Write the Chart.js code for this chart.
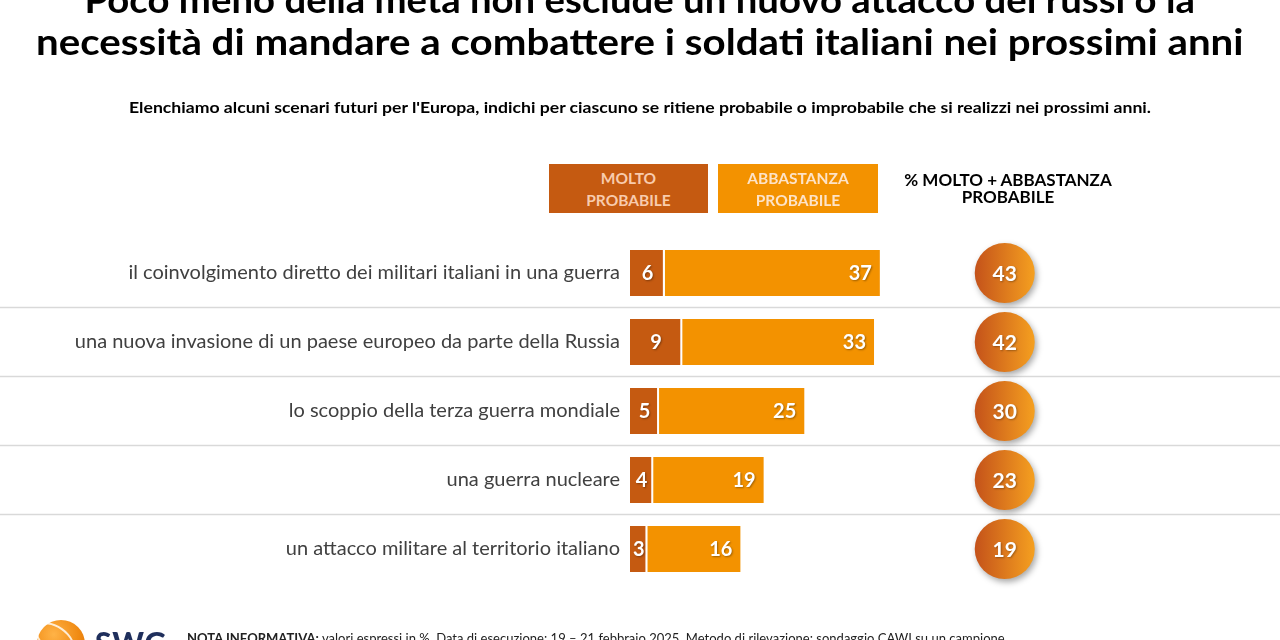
<!DOCTYPE html>
<html>
<head>
<meta charset="utf-8">
<script src="https://cdn.jsdelivr.net/npm/chart.js@4/dist/chart.umd.min.js"></script>
<style>
  html, body { margin:0; padding:0; background:#fff; width:1280px; height:640px; overflow:hidden; font-family: Lato, "Open Sans", sans-serif; }
  #wrap { position:relative; width:1280px; height:640px; overflow:hidden; }
  #chart { position:absolute; left:0; top:0; }
  .line { position:absolute; left:0; width:1280px; text-align:center; white-space:nowrap; }
  .fit { display:inline-block; transform-origin:50% 0; }
  .title { font-weight:700; font-size:37px; line-height:1.2; color:#000; }
  .sub { font-weight:700; font-size:15px; line-height:1.2; color:#000; }
  .box { position:absolute; height:49px; display:flex; align-items:center; justify-content:center; text-align:center; font-weight:700; font-size:15.5px; line-height:22px; }
  .hdr { position:absolute; text-align:center; font-weight:700; font-size:17px; line-height:17px; color:#000; white-space:nowrap; }
  .note { position:absolute; left:187px; top:631px; font-size:13px; line-height:1.2; color:#222; white-space:nowrap; transform-origin:0 0; }
  .note b { text-decoration:underline; }
  .logo { position:absolute; left:37px; top:620px; width:48px; height:48px; border-radius:50%; background:radial-gradient(circle at 35% 30%, #ffb347, #f08a12 55%, #d96c0a); }
  .logo::after { content:""; position:absolute; left:-4px; top:6px; width:40px; height:22px; border:2px solid rgba(255,255,255,0.8); border-radius:50%; transform:rotate(35deg); }
  .logotxt { position:absolute; left:95px; top:624px; font-weight:900; font-size:30px; line-height:36px; color:#1f2f5c; letter-spacing:1px; }
</style>
</head>
<body>
<div id="wrap">
  <canvas id="chart" width="1280" height="640"></canvas>

  <div class="line title" style="top:-23px;"><span class="fit" data-w="1110">Poco meno della metà non esclude un nuovo attacco dei russi o la</span></div>
  <div class="line title" style="top:19px;"><span class="fit" data-w="1208">necessità di mandare a combattere i soldati italiani nei prossimi anni</span></div>
  <div class="line sub" style="top:98px;"><span class="fit" data-w="1022">Elenchiamo alcuni scenari futuri per l'Europa, indichi per ciascuno se ritiene probabile o improbabile che si realizzi nei prossimi anni.</span></div>

  <div id="legendMolto" class="box" style="left:549px; top:164px; width:159px; background:#C55A11; color:#F8CBAD;"></div>
  <div id="legendAbb" class="box" style="left:718px; top:164px; width:160px; background:#F39200; color:#FDE3C8;"></div>
  <div id="totHeader" class="hdr" style="left:858px; width:300px; top:171px;"></div>

  <div class="logo"></div>
  <div class="logotxt">SWG</div>
  <div class="note fit2" data-w="818"><b>NOTA INFORMATIVA:</b> valori espressi in %. Data di esecuzione: 19 – 21 febbraio 2025. Metodo di rilevazione: sondaggio CAWI su un campione</div>
</div>

<script>
// ---- Data ----
const categories = [
  'il coinvolgimento diretto dei militari italiani in una guerra',
  'una nuova invasione di un paese europeo da parte della Russia',
  'lo scoppio della terza guerra mondiale',
  'una guerra nucleare',
  'un attacco militare al territorio italiano'
];
const moltoProbabile = [6, 9, 5, 4, 3];
const abbastanzaProbabile = [37, 33, 25, 19, 16];
const totali = [43, 42, 30, 23, 19];
const seriesNames = ['MOLTO\nPROBABILE', 'ABBASTANZA\nPROBABILE'];
const totalHeader = '% MOLTO + ABBASTANZA\nPROBABILE';

// ---- Static text from data ----
document.getElementById('legendMolto').innerHTML = seriesNames[0].replace('\n', '<br>');
document.getElementById('legendAbb').innerHTML = seriesNames[1].replace('\n', '<br>');
document.getElementById('totHeader').innerHTML = totalHeader.replace('\n', '<br>');

function fitTexts() {
  document.querySelectorAll('.fit, .fit2').forEach(el => {
    const w = el.offsetWidth; const t = +el.dataset.w;
    if (w > 0) el.style.transform = 'scaleX(' + (t / w) + ')';
  });
}
fitTexts();

const COLORS = { molto: '#C55A11', abb: '#F39200' };
const TOTAL_COLUMN = 64.5; // x-scale value where the total circles sit

// separators between rows, full width
const separatorPlugin = {
  id: 'separators',
  beforeDatasetsDraw(chart) {
    const y = chart.scales.y, ctx = chart.ctx;
    ctx.save();
    ctx.strokeStyle = '#D9D9D9';
    ctx.lineWidth = 1.5;
    for (let i = 1; i < categories.length; i++) {
      const py = (y.getPixelForValue(i - 1) + y.getPixelForValue(i)) / 2;
      ctx.beginPath(); ctx.moveTo(0, py); ctx.lineTo(1280, py); ctx.stroke();
    }
    ctx.restore();
  }
};

// value labels on bars + total circles
const labelPlugin = {
  id: 'labels',
  afterDatasetsDraw(chart) {
    const ctx = chart.ctx;
    ctx.save();
    ctx.font = 'bold 20px Lato, sans-serif';
    ctx.fillStyle = '#fff';
    ctx.textBaseline = 'middle';
    ctx.shadowColor = 'rgba(0,0,0,0.35)';
    ctx.shadowBlur = 2; ctx.shadowOffsetX = 1; ctx.shadowOffsetY = 1;
    chart.getDatasetMeta(0).data.forEach((el, i) => {
      ctx.textAlign = 'center';
      ctx.fillText(String(moltoProbabile[i]), (el.base + el.x) / 2, el.y + 1);
    });
    chart.getDatasetMeta(1).data.forEach((el, i) => {
      ctx.textAlign = 'right';
      ctx.fillText(String(abbastanzaProbabile[i]), el.x - 8, el.y + 1);
    });
    ctx.restore();

    // total circles
    const xs = chart.scales.x, ys = chart.scales.y;
    totali.forEach((v, i) => {
      const cx = xs.getPixelForValue(TOTAL_COLUMN);
      const cy = ys.getPixelForValue(i);
      const r = 30;
      ctx.save();
      const g = ctx.createLinearGradient(cx - r, cy, cx + r, cy);
      g.addColorStop(0, '#C4521A');
      g.addColorStop(1, '#F5A020');
      ctx.shadowColor = 'rgba(0,0,0,0.35)';
      ctx.shadowBlur = 6; ctx.shadowOffsetX = 2; ctx.shadowOffsetY = 3;
      ctx.beginPath(); ctx.arc(cx, cy, r, 0, Math.PI * 2);
      ctx.fillStyle = g; ctx.fill();
      ctx.restore();
      ctx.save();
      ctx.font = 'bold 21px Lato, sans-serif';
      ctx.fillStyle = '#fff';
      ctx.textAlign = 'center'; ctx.textBaseline = 'middle';
      ctx.shadowColor = 'rgba(0,0,0,0.3)'; ctx.shadowBlur = 2; ctx.shadowOffsetX = 1; ctx.shadowOffsetY = 1;
      ctx.fillText(String(v), cx, cy + 1);
      ctx.restore();
    });
  }
};

new Chart(document.getElementById('chart'), {
  type: 'bar',
  data: {
    labels: categories,
    datasets: [
      { label: seriesNames[0], data: moltoProbabile, backgroundColor: COLORS.molto,
        borderColor: '#ffffff', borderWidth: { left: 0, top: 0, bottom: 0, right: 2 }, borderSkipped: false },
      { label: seriesNames[1], data: abbastanzaProbabile, backgroundColor: COLORS.abb, borderWidth: 0 }
    ]
  },
  options: {
    indexAxis: 'y',
    responsive: false,
    devicePixelRatio: 1,
    animation: false,
    layout: { padding: { left: 0, right: 69, top: 238.5, bottom: 56.5 } },
    datasets: { bar: { barPercentage: 0.667, categoryPercentage: 1 } },
    plugins: { legend: { display: false }, tooltip: { enabled: false }, title: { display: false } },
    scales: {
      x: { stacked: true, min: 0, max: 100, display: false },
      y: {
        stacked: true,
        grid: { display: false, drawTicks: false },
        border: { display: false },
        ticks: { color: '#404040', padding: 10, font: { family: 'Lato', size: 20 } },
        afterFit(axis) { axis.width = 630; }
      }
    }
  },
  plugins: [separatorPlugin, labelPlugin]
});
</script>
</body>
</html>
